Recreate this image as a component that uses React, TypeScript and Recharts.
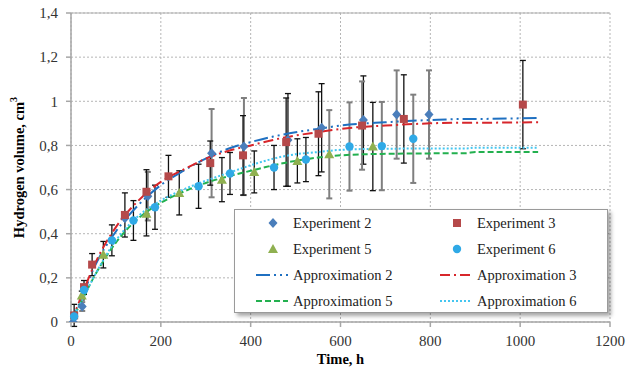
import { ComposedChart, Scatter, Line, XAxis, YAxis, CartesianGrid, ErrorBar, Legend, ReferenceLine } from "recharts"

const FONT = "'Liberation Serif', 'Times New Roman', serif"

const xTicks = [0, 200, 400, 600, 800, 1000, 1200]
const yTicks = [0, 0.2, 0.4, 0.6, 0.8, 1, 1.2, 1.4]

// Experiment 2 (time h, volume cm3, error, bar colour k=black g=grey)
const exp2Time = [5, 25, 120, 171, 313, 385, 483, 558, 651, 725, 797]
const exp2Vol = [0, 0.07, 0.47, 0.57, 0.765, 0.795, 0.825, 0.88, 0.915, 0.94, 0.94]
const exp2Err = [0, 0.02, 0, 0.11, 0.2, 0.22, 0.21, 0.2, 0.2, 0.2, 0.2]
const exp2Bar = ["", "g", "", "g", "g", "g", "k", "k", "k", "g", "g"]

// Experiment 3
const exp3Time = [7, 29, 47, 120, 168, 217, 310, 383, 479, 551, 648, 741, 1006]
const exp3Vol = [0.03, 0.158, 0.26, 0.485, 0.59, 0.66, 0.72, 0.755, 0.815, 0.853, 0.89, 0.92, 0.985]
const exp3Err = [0.05, 0.03, 0.05, 0.1, 0.1, 0.095, 0.1, 0.18, 0.2, 0.19, 0.2, 0.2, 0.2]
const exp3Bar = ["k", "k", "k", "k", "k", "k", "k", "k", "k", "k", "g", "k", "k"]

// Experiment 5
const exp5Time = [24, 72, 168, 241, 336, 408, 504, 575, 672]
const exp5Vol = [0.12, 0.305, 0.49, 0.585, 0.645, 0.68, 0.73, 0.76, 0.795]
const exp5Err = [0.02, 0.06, 0.1, 0.1, 0.1, 0.095, 0.1, 0.2, 0.2]
const exp5Bar = ["k", "k", "k", "k", "k", "k", "k", "g", "k"]

// Experiment 6
const exp6Time = [7, 29, 91, 139, 187, 284, 354, 452, 523, 620, 692, 762]
const exp6Vol = [0.025, 0.145, 0.37, 0.46, 0.52, 0.615, 0.673, 0.7, 0.736, 0.795, 0.797, 0.83]
const exp6Err = [0, 0.02, 0.07, 0.09, 0.1, 0.1, 0.095, 0.1, 0.1, 0.2, 0.2, 0.2]
const exp6Bar = ["", "k", "k", "k", "k", "k", "k", "k", "k", "g", "g", "g"]

// Approximation curves
const approxTime = [0, 20, 50, 100, 150, 200, 250, 300, 350, 400, 450, 500, 550, 600, 700, 800, 880, 900, 1040]
const approx2 = [0, 0.09, 0.24, 0.41, 0.53, 0.62, 0.685, 0.74, 0.785, 0.815, 0.84, 0.86, 0.875, 0.89, 0.905, 0.915, 0.92, 0.92, 0.925]
const approx3 = [0, 0.1, 0.25, 0.43, 0.55, 0.635, 0.69, 0.74, 0.775, 0.8, 0.825, 0.845, 0.86, 0.875, 0.89, 0.9, 0.903, 0.903, 0.905]
const approx5 = [0, 0.08, 0.2, 0.36, 0.47, 0.54, 0.59, 0.63, 0.66, 0.685, 0.71, 0.73, 0.745, 0.755, 0.762, 0.764, 0.765, 0.77, 0.77]
const approx6 = [0, 0.08, 0.2, 0.37, 0.48, 0.55, 0.6, 0.64, 0.675, 0.71, 0.74, 0.76, 0.77, 0.78, 0.785, 0.786, 0.786, 0.79, 0.79]

const toRows = (time: number[], vol: number[], err: number[], bar: string[]) =>
  time.map((t, i) => ({
    t,
    v: vol[i],
    errK: bar[i] === "k" ? err[i] : undefined,
    errG: bar[i] === "g" ? err[i] : undefined,
  }))

const toLine = (time: number[], vol: number[]) => time.map((t, i) => ({ t, v: vol[i] }))

const C_EXP2 = "#4a7ebb"
const C_EXP3 = "#b5494a"
const C_EXP5 = "#8fb050"
const C_EXP6 = "#2fa9e6"
const C_APP2 = "#1f70c1"
const C_APP3 = "#d7262b"
const C_APP5 = "#23b04f"
const C_APP6 = "#45c6f0"

const DASH2 = "14 4 2 4 2 4"
const DASH3 = "10 4 2 4"
const DASH5 = "6 3"
const DASH6 = "2 2"

const markerShape = (kind: string, color: string) => (p: any) => {
  const { cx, cy } = p
  if (cx == null || cy == null) return <g />
  if (kind === "diamond")
    return <path d={`M${cx},${cy - 5}L${cx + 4.5},${cy}L${cx},${cy + 5}L${cx - 4.5},${cy}Z`} fill={color} />
  if (kind === "square") return <rect x={cx - 4} y={cy - 4} width={8} height={8} fill={color} />
  if (kind === "triangle")
    return <path d={`M${cx},${cy - 5}L${cx + 5},${cy + 4}L${cx - 5},${cy + 4}Z`} fill={color} />
  return <circle cx={cx} cy={cy} r={4.2} fill={color} />
}

const legendItems = [
  { name: "Experiment 2", kind: "diamond", color: C_EXP2 },
  { name: "Experiment 3", kind: "square", color: C_EXP3 },
  { name: "Experiment 5", kind: "triangle", color: C_EXP5 },
  { name: "Experiment 6", kind: "circle", color: C_EXP6 },
  { name: "Approximation 2", kind: "line", color: C_APP2, dash: DASH2 },
  { name: "Approximation 3", kind: "line", color: C_APP3, dash: DASH3 },
  { name: "Approximation 5", kind: "line", color: C_APP5, dash: DASH5 },
  { name: "Approximation 6", kind: "line", color: C_APP6, dash: DASH6 },
]

function LegendBox() {
  return (
    <div
      style={{
        width: 374,
        height: 104,
        boxSizing: "border-box",
        border: "1px solid #9a9a9a",
        background: "white",
        boxShadow: "3px 3px 4px rgba(0,0,0,0.35)",
        display: "grid",
        gridTemplateColumns: "184px 190px",
        gridTemplateRows: "repeat(4, 26px)",
        fontFamily: FONT,
        fontSize: 14.5,
        color: "#222",
      }}
    >
      {legendItems.map((it) => (
        <div key={it.name} style={{ display: "flex", alignItems: "center" }}>
          <svg width={58} height={14} style={{ flex: "none" }}>
            {it.kind === "line" ? (
              <line x1={21} y1={7} x2={53} y2={7} stroke={it.color} strokeWidth={2} strokeDasharray={it.dash} />
            ) : (
              markerShape(it.kind, it.color)({ cx: 38, cy: 7 })
            )}
          </svg>
          <span style={{ whiteSpace: "nowrap" }}>{it.name}</span>
        </div>
      ))}
    </div>
  )
}

function YTitle(props: any) {
  const vb = props.viewBox || { x: 0, y: 13, width: 71, height: 309 }
  const cx = 19
  const cy = vb.y + vb.height / 2
  return (
    <text
      x={cx}
      y={cy}
      transform={`rotate(-90, ${cx}, ${cy})`}
      textAnchor="middle"
      dominantBaseline="central"
      fontFamily={FONT}
      fontSize={14.5}
      fontWeight="bold"
      fill="#000"
    >
      Hydrogen volume, cm
      <tspan baselineShift="super" fontSize={10}>3</tspan>
    </text>
  )
}

const tickStyle = { fontFamily: FONT, fontSize: 15, fill: "#333" }

export default function App() {
  return (
    <div style={{ position: "absolute", left: 0, top: 0, width: 635, height: 372, background: "white" }}>
      <ComposedChart width={635} height={372} margin={{ top: 13, right: 25, bottom: 0, left: 0 }}>
        <CartesianGrid stroke="#b5b5b5" strokeDasharray="2 2" />
        <XAxis
          dataKey="t"
          type="number"
          domain={[0, 1200]}
          ticks={xTicks}
          height={50}
          tick={tickStyle}
          tickSize={5}
          tickMargin={8}
          stroke="#a6a6a6"
          strokeWidth={1.5}
          label={{ value: "Time, h", position: "insideBottom", offset: 8, style: { fontFamily: FONT, fontSize: 14.5, fontWeight: "bold", fill: "#000" } }}
        />
        <YAxis
          dataKey="v"
          type="number"
          domain={[0, 1.4]}
          ticks={yTicks}
          width={71}
          allowDataOverflow
          tick={tickStyle}
          tickSize={5}
          tickMargin={8}
          stroke="#a6a6a6"
          strokeWidth={1.5}
          tickFormatter={(v: number) => String(v).replace(".", ",")}
          label={{ content: YTitle }}
        />
        <ReferenceLine y={1.4} stroke="#b0b0b0" strokeWidth={1.2} />
        <Scatter name="Experiment 2" data={toRows(exp2Time, exp2Vol, exp2Err, exp2Bar)} dataKey="v" shape={markerShape("diamond", C_EXP2)} isAnimationActive={false}>
          <ErrorBar dataKey="errG" direction="y" width={3} stroke="#7f7f7f" strokeWidth={2} />
          <ErrorBar dataKey="errK" direction="y" width={3} stroke="#111" strokeWidth={1.3} />
        </Scatter>
        <Scatter name="Experiment 3" data={toRows(exp3Time, exp3Vol, exp3Err, exp3Bar)} dataKey="v" shape={markerShape("square", C_EXP3)} isAnimationActive={false}>
          <ErrorBar dataKey="errG" direction="y" width={3} stroke="#7f7f7f" strokeWidth={2} />
          <ErrorBar dataKey="errK" direction="y" width={3} stroke="#111" strokeWidth={1.3} />
        </Scatter>
        <Scatter name="Experiment 5" data={toRows(exp5Time, exp5Vol, exp5Err, exp5Bar)} dataKey="v" shape={markerShape("triangle", C_EXP5)} isAnimationActive={false}>
          <ErrorBar dataKey="errG" direction="y" width={3} stroke="#7f7f7f" strokeWidth={2} />
          <ErrorBar dataKey="errK" direction="y" width={3} stroke="#111" strokeWidth={1.3} />
        </Scatter>
        <Scatter name="Experiment 6" data={toRows(exp6Time, exp6Vol, exp6Err, exp6Bar)} dataKey="v" shape={markerShape("circle", C_EXP6)} isAnimationActive={false}>
          <ErrorBar dataKey="errG" direction="y" width={3} stroke="#7f7f7f" strokeWidth={2} />
          <ErrorBar dataKey="errK" direction="y" width={3} stroke="#111" strokeWidth={1.3} />
        </Scatter>
        <Line name="Approximation 2" data={toLine(approxTime, approx2)} dataKey="v" type="monotone" stroke={C_APP2} strokeWidth={2} strokeDasharray={DASH2} dot={false} activeDot={false} isAnimationActive={false} />
        <Line name="Approximation 3" data={toLine(approxTime, approx3)} dataKey="v" type="monotone" stroke={C_APP3} strokeWidth={2} strokeDasharray={DASH3} dot={false} activeDot={false} isAnimationActive={false} />
        <Line name="Approximation 5" data={toLine(approxTime, approx5)} dataKey="v" type="monotone" stroke={C_APP5} strokeWidth={2} strokeDasharray={DASH5} dot={false} activeDot={false} isAnimationActive={false} />
        <Line name="Approximation 6" data={toLine(approxTime, approx6)} dataKey="v" type="monotone" stroke={C_APP6} strokeWidth={2} strokeDasharray={DASH6} dot={false} activeDot={false} isAnimationActive={false} />
        <Legend
          layout="horizontal"
          verticalAlign="middle"
          align="center"
          content={() => <LegendBox />}
          wrapperStyle={{ left: 234, top: 209, width: 374, height: 104 }}
        />
      </ComposedChart>
    </div>
  )
}
